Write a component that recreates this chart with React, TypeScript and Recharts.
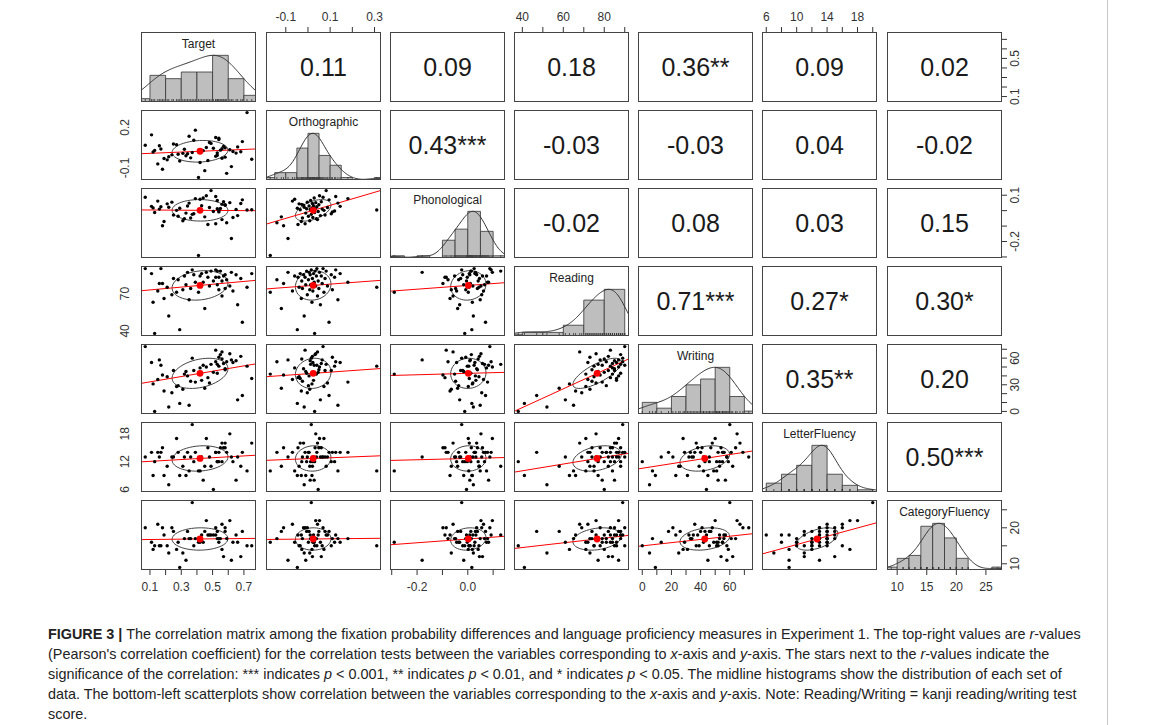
import React from 'react';
import { ComposedChart, Scatter, Line, XAxis, YAxis, ReferenceArea } from 'recharts';

const varNames = ['Target', 'Orthographic', 'Phonological', 'Reading', 'Writing', 'LetterFluency', 'CategoryFluency'];

// one value per participant (n = 57), same participant order in every list
const target = [
  0.13, 0.29, 0.69, 0.22, 0.45, 0.66, 0.12, 0.35, 0.19, 0.56,
  0.24, 0.41, 0.27, 0.63, 0.15, 0.54, 0.31, 0.58, 0.36, 0.72,
  0.21, 0.61, 0.48, 0.33, 0.53, 0.18, 0.16, 0.44, 0.39, 0.56,
  0.505, 0.28, 0.59, 0.25, 0.68, 0.47, 0.54, 0.52, 0.32, 0.57,
  0.42, 0.65, 0.38, 0.58, 0.43, 0.11, 0.75, 0.46, 0.34, 0.62,
  0.49, 0.55, 0.53, 0.52, 0.37, 0.07, 0.17,
];
const orthographic = [
  0.03, -0.048, 0.095, -0.017, -0.12, 0.056, 0.018, 0.135, -0.03, 0.043,
  -0.003, -0.17, 0.072, 0.022, -0.07, 0.11, 0.008, 0.049, -0.025, 0.31,
  -0.04, 0.035, 0.088, -0.01, 0.012, -0.11, 0.064, 0.028, 0.18, -0.028,
  0.046, 0.002, -0.14, 0.077, 0.02, -0.045, 0.12, -0.013, 0.038, 0.06,
  -0.06, 0.01, 0.105, -0.02, 0.025, 0.145, -0.035, 0.052, 0.005, -0.09,
  0.082, 0.032, -0.006, 0.125, 0.015, 0.068, 0.04,
];
const phonological = [
  -0.012, 0.016, 0.07, 0.022, -0.04, -0.032, 0.018, 0.049, -0.07, -0.058,
  0.055, -0.29, 0.002, -0.044, 0.062, -0.008, -0.065, 0.038, -0.048, 0.004,
  0.044, 0.052, 0.02, -0.016, 0.066, -0.098, 0.01, 0.082, 0.078, 0.041,
  -0.005, -0.036, -0.078, -0.028, 0.046, -0.09, -0.002, -0.085, -0.052, 0.058,
  0.074, 0.008, -0.02, 0.035, 0.032, 0.028, 0.006, 0.097, 0.03, -0.18,
  0.13, 0.014, 0.012, 0.092, -0.024, 0.087, 0.025,
];
const reading = [
  38, 41, 47, 52, 58, 61, 63, 65, 66, 68,
  69, 71, 71, 72, 72, 73, 73, 74, 74, 75,
  75, 76, 76, 77, 77, 78, 78, 79, 79, 80,
  80, 81, 81, 82, 82, 83, 83, 83, 84, 84,
  84, 85, 85, 85, 86, 86, 86, 87, 87, 87,
  88, 88, 88, 89, 89, 90, 90,
];
const writing = [
  0, 9, 18, 5, 26, 13, 31, 7, 23, 67,
  21, 42, 28, 55, 36, 61, 25, 47, 34, 51,
  39, 65, 32, 45, 53, 41, 58, 52, 33, 59,
  44, 29, 56, 46, 62, 38, 51, 69, 42, 54,
  49, 57, 46, 48, 35, 55, 37, 50, 40, 58,
  53, 64, 43, 56, 60, 73, 52,
];
const letterFluency = [
  12, 9, 14, 7, 11, 13, 9, 10, 9, 16,
  13, 10, 17, 12, 14, 14, 11, 15, 13, 10,
  11, 18, 13, 9, 12, 15, 13, 8, 14, 12,
  6, 14, 14, 13, 11, 15, 12, 14, 13, 15,
  10, 8, 12, 16, 13, 14, 16, 17, 14, 13,
  11, 15, 12, 14, 20, 13, 14,
];
const categoryFluency = [
  15, 9, 19, 13, 19, 16, 14, 17, 18, 21,
  20, 16, 14, 16, 21, 17, 13, 19, 17, 15,
  15, 22, 18, 11, 17, 20, 15, 16, 17, 14,
  18, 16, 17, 19, 12, 18, 16, 20, 17, 12,
  16, 18, 15, 20, 18, 16, 15, 22, 19, 11,
  18, 17, 19, 18, 27, 20, 15,
];

// r-values printed in the upper triangle, row by row
const corLabels = [
  ['0.11', '0.09', '0.18', '0.36**', '0.09', '0.02'],
  ['0.43***', '-0.03', '-0.03', '0.04', '-0.02'],
  ['-0.02', '0.08', '0.03', '0.15'],
  ['0.71***', '0.27*', '0.30*'],
  ['0.35**', '0.20'],
  ['0.50***'],
];

const binWidths = [0.1, 0.05, 0.05, 10, 10, 2, 2];
const axisTicks = [
  [0.1, 0.2, 0.3, 0.4, 0.5, 0.6, 0.7],
  [-0.1, 0, 0.1, 0.2, 0.3],
  [-0.3, -0.2, -0.1, 0, 0.1],
  [40, 50, 60, 70, 80, 90],
  [0, 10, 20, 30, 40, 50, 60, 70],
  [6, 8, 10, 12, 14, 16, 18, 20],
  [10, 15, 20, 25],
];
const xTickLabels = [
  ['0.1', '0.3', '0.5', '0.7'],
  ['-0.1', '0.1', '0.3'],
  ['-0.2', '0.0'],
  ['40', '60', '80'],
  ['0', '20', '40', '60'],
  ['6', '10', '14', '18'],
  ['10', '15', '20', '25'],
];
const yTickLabels = [
  ['0.1', '0.5'],
  ['-0.1', '0.2'],
  ['-0.2', '0.1'],
  ['40', '70'],
  ['0', '30', '60'],
  ['6', '12', '18'],
  ['10', '20'],
];

const series = [target, orthographic, phonological, reading, writing, letterFluency, categoryFluency];

const FONT = '"Liberation Sans", Arial, Helvetica, sans-serif';
const PW = 115;
const PH = 70;
const M = 32;
const AX = 30;
const colX = [141, 266, 390, 514, 638, 762, 887];
const rowY = [32, 110, 188, 266, 344, 422, 500];

const mean = (a: number[]) => a.reduce((s, v) => s + v, 0) / a.length;
const sd = (a: number[]) => {
  const m = mean(a);
  return Math.sqrt(a.reduce((s, v) => s + (v - m) * (v - m), 0) / (a.length - 1));
};
const cor = (a: number[], b: number[]) => {
  const ma = mean(a);
  const mb = mean(b);
  let sab = 0;
  a.forEach((v, k) => { sab += (v - ma) * (b[k] - mb); });
  return sab / (a.length - 1) / (sd(a) * sd(b));
};

// R's usr range: data range padded by 4% each side
const domains = series.map((v) => {
  const lo = Math.min(...v);
  const hi = Math.max(...v);
  const pad = (hi - lo) * 0.04;
  return [lo - pad, hi + pad] as [number, number];
});

function histBins(v: number[], w: number) {
  const lo = Math.floor(Math.min(...v) / w + 1e-9) * w;
  const hi = Math.ceil(Math.max(...v) / w - 1e-9) * w;
  const nb = Math.round((hi - lo) / w);
  const counts = new Array(nb).fill(0);
  v.forEach((x) => {
    let k = Math.ceil((x - lo) / w - 1e-9) - 1;
    if (k < 0) k = 0;
    counts[k] += 1;
  });
  const max = Math.max(...counts);
  return counts.map((c, k) => ({ x1: lo + k * w, x2: lo + (k + 1) * w, h: c / max }));
}

function densityCurve(v: number[], dom: [number, number]) {
  const s = [...v].sort((a, b) => a - b);
  const n = s.length;
  const q = (p: number) => {
    const h = (n - 1) * p;
    const l = Math.floor(h);
    return s[l] + (h - l) * (s[Math.min(l + 1, n - 1)] - s[l]);
  };
  const bw = 1.06 * Math.min(sd(v), (q(0.75) - q(0.25)) / 1.34) * Math.pow(n, -0.2) * 1.2;
  const pts: { x: number; y: number }[] = [];
  for (let k = 0; k <= 120; k++) {
    const x = dom[0] + ((dom[1] - dom[0]) * k) / 120;
    let d = 0;
    v.forEach((u) => {
      const z = (x - u) / bw;
      d += Math.exp(-0.5 * z * z);
    });
    pts.push({ x, y: d });
  }
  const max = Math.max(...pts.map((p) => p.y));
  return pts.map((p) => ({ x: p.x, y: p.y / max }));
}

function ellipsePoints(xs: number[], ys: number[]) {
  const xm = mean(xs);
  const ym = mean(ys);
  const sx = sd(xs);
  const sy = sd(ys);
  const r = cor(xs, ys);
  const th = 1 / Math.sqrt(2);
  const pts: { x: number; y: number }[] = [];
  for (let k = 0; k <= 51; k++) {
    const a = (k * 2 * Math.PI) / 51;
    const c = Math.cos(a);
    const s = Math.sin(a);
    const ex = c * Math.sqrt(1 + r) * th - s * Math.sqrt(1 - r) * th;
    const ey = c * Math.sqrt(1 + r) * th + s * Math.sqrt(1 - r) * th;
    pts.push({ x: xm + ex * sx, y: ym + ey * sy });
  }
  return pts;
}

function regression(xs: number[], ys: number[], dom: [number, number]) {
  const b = (cor(xs, ys) * sd(ys)) / sd(xs);
  const a = mean(ys) - b * mean(xs);
  return [{ x: dom[0], y: a + b * dom[0] }, { x: dom[1], y: a + b * dom[1] }];
}

const findLabel = (labels: string[], v: number) => labels.find((l) => Math.abs(parseFloat(l) - v) < 1e-9);

const makeXTick = (labels: string[], top: boolean) => (props: any) => {
  const lab = findLabel(labels, props.payload.value);
  if (lab === undefined) return <g />;
  return (
    <text x={props.x} y={top ? M - 11 : M + PH + 21} textAnchor="middle" fontSize={12} fill="#333" fontFamily={FONT}>
      {lab}
    </text>
  );
};

const makeYTick = (labels: string[], right: boolean) => (props: any) => {
  const lab = findLabel(labels, props.payload.value);
  if (lab === undefined) return <g />;
  const x = right ? M + PW + 17 : M - 12;
  const y = props.y;
  return (
    <text x={x} y={y} transform={`rotate(-90 ${x} ${y})`} textAnchor="middle" fontSize={12} fill="#333" fontFamily={FONT}>
      {lab}
    </text>
  );
};

const dot = (props: any) => <circle cx={props.cx} cy={props.cy} r={1.7} fill="#000" />;
const bigDot = (props: any) => <circle cx={props.cx} cy={props.cy} r={3.4} fill="#ff0000" />;
const rugTick = (props: any) => <line x1={props.cx} x2={props.cx} y1={props.cy} y2={props.cy - 3} stroke="#333" strokeWidth={0.8} />;

function Panel({ i, j }: { i: number; j: number }) {
  const showTop = i === 0 && j % 2 === 1;
  const showBottom = i === 6 && j % 2 === 0;
  const showLeft = j === 0 && i % 2 === 1;
  const showRight = j === 6 && i % 2 === 0;
  const margin = {
    top: showTop ? M - AX : M,
    bottom: showBottom ? M - AX : M,
    left: showLeft ? M - AX : M,
    right: showRight ? M - AX : M,
  };
  const xs = series[j];
  const ys = series[i];

  let content: React.ReactNode[] = [];
  if (i === j) {
    const bins = histBins(xs, binWidths[j]);
    content = [
      ...bins.map((b, k) => (
        <ReferenceArea key={'b' + k} yAxisId="h" x1={b.x1} x2={b.x2} y1={0} y2={b.h} fill="#bebebe" fillOpacity={1} stroke="#333" strokeWidth={0.8} ifOverflow="hidden" />
      )),
      <Line key="dens" yAxisId="h" data={densityCurve(xs, domains[j])} dataKey="y" type="linear" stroke="#333" strokeWidth={1} dot={false} isAnimationActive={false} />,
      <Scatter key="rug" yAxisId="h" data={xs.map((x) => ({ x, y: 0 }))} dataKey="y" shape={rugTick} isAnimationActive={false} />,
    ];
  } else if (i > j) {
    const pts = xs.map((x, k) => ({ x, y: ys[k] }));
    content = [
      <Scatter key="pts" yAxisId="v" data={pts} dataKey="y" shape={dot} isAnimationActive={false} />,
      <Line key="ell" yAxisId="v" data={ellipsePoints(xs, ys)} dataKey="y" type="linear" stroke="#444" strokeWidth={1} dot={false} isAnimationActive={false} />,
      <Line key="fit" yAxisId="v" data={regression(xs, ys, domains[j])} dataKey="y" type="linear" stroke="#ff0000" strokeWidth={1} dot={false} isAnimationActive={false} />,
      <Scatter key="mean" yAxisId="v" data={[{ x: mean(xs), y: mean(ys) }]} dataKey="y" shape={bigDot} isAnimationActive={false} />,
    ];
  }

  return (
    <div style={{ position: 'absolute', left: colX[j] - M, top: rowY[i] - M }}>
      <ComposedChart width={PW + 2 * M} height={PH + 2 * M} margin={margin}>
        <XAxis
          type="number"
          dataKey="x"
          domain={domains[j]}
          allowDataOverflow
          hide={!(showTop || showBottom)}
          orientation={showTop ? 'top' : 'bottom'}
          height={AX}
          ticks={axisTicks[j]}
          interval={0}
          tickSize={5}
          tickMargin={0}
          axisLine={false}
          tickLine={{ stroke: '#333' }}
          tick={makeXTick(xTickLabels[j], showTop)}
        />
        <YAxis
          yAxisId="v"
          type="number"
          dataKey="y"
          domain={domains[i]}
          allowDataOverflow
          hide={!(showLeft || showRight)}
          orientation={showRight ? 'right' : 'left'}
          width={AX}
          ticks={axisTicks[i]}
          interval={0}
          tickSize={5}
          tickMargin={0}
          axisLine={false}
          tickLine={{ stroke: '#333' }}
          tick={makeYTick(yTickLabels[i], showRight)}
        />
        <YAxis yAxisId="h" type="number" dataKey="y" domain={[0, 1.5]} allowDataOverflow hide />
        {content}
      </ComposedChart>
    </div>
  );
}

const captionLines: React.ReactNode[] = [
  <>
    <b>FIGURE 3 |</b> The correlation matrix among the fixation probability differences and language proficiency measures in Experiment 1. The top-right values are <i>r</i>-values
  </>,
  <>
    (Pearson's correlation coefficient) for the correlation tests between the variables corresponding to <i>x</i>-axis and <i>y</i>-axis. The stars next to the <i>r</i>-values indicate the
  </>,
  <>
    significance of the correlation: *** indicates <i>p</i> &lt; 0.001, ** indicates <i>p</i> &lt; 0.01, and * indicates <i>p</i> &lt; 0.05. The midline histograms show the distribution of each set of
  </>,
  <>
    data. The bottom-left scatterplots show correlation between the variables corresponding to the <i>x</i>-axis and <i>y</i>-axis. Note: Reading/Writing = kanji reading/writing test
  </>,
  <>score.</>,
];

export default function App() {
  const panels: React.ReactNode[] = [];
  const overlays: React.ReactNode[] = [];
  for (let i = 0; i < 7; i++) {
    for (let j = 0; j < 7; j++) {
      panels.push(<Panel key={`p${i}-${j}`} i={i} j={j} />);
      overlays.push(
        <div
          key={`box${i}-${j}`}
          style={{ position: 'absolute', left: colX[j], top: rowY[i], width: PW, height: PH, border: '1px solid #444', boxSizing: 'border-box' }}
        />
      );
      if (i === j) {
        overlays.push(
          <div
            key={`name${i}`}
            style={{ position: 'absolute', left: colX[j], top: rowY[i] + 5, width: PW, textAlign: 'center', fontSize: 12, lineHeight: '14px', color: '#222', fontFamily: FONT }}
          >
            {varNames[i]}
          </div>
        );
      }
      if (i < j) {
        overlays.push(
          <div
            key={`cor${i}-${j}`}
            style={{ position: 'absolute', left: colX[j], top: rowY[i], width: PW, height: PH, display: 'flex', alignItems: 'center', justifyContent: 'center', fontSize: 25, color: '#1a1a1a', fontFamily: FONT }}
          >
            {corLabels[i][j - i - 1]}
          </div>
        );
      }
    }
  }

  return (
    <div style={{ position: 'absolute', left: 0, top: 0, width: 1154, height: 725, background: '#fff', overflow: 'hidden' }}>
      {panels}
      {overlays}
      <div style={{ position: 'absolute', left: 1107, top: 0, width: 1, height: 725, background: '#c8c8c8' }} />
      <div style={{ position: 'absolute', left: 48, top: 624, fontFamily: FONT, fontSize: 14.4, lineHeight: '20px', color: '#222', whiteSpace: 'nowrap' }}>
        {captionLines.map((l, k) => (
          <div key={k}>{l}</div>
        ))}
      </div>
    </div>
  );
}
